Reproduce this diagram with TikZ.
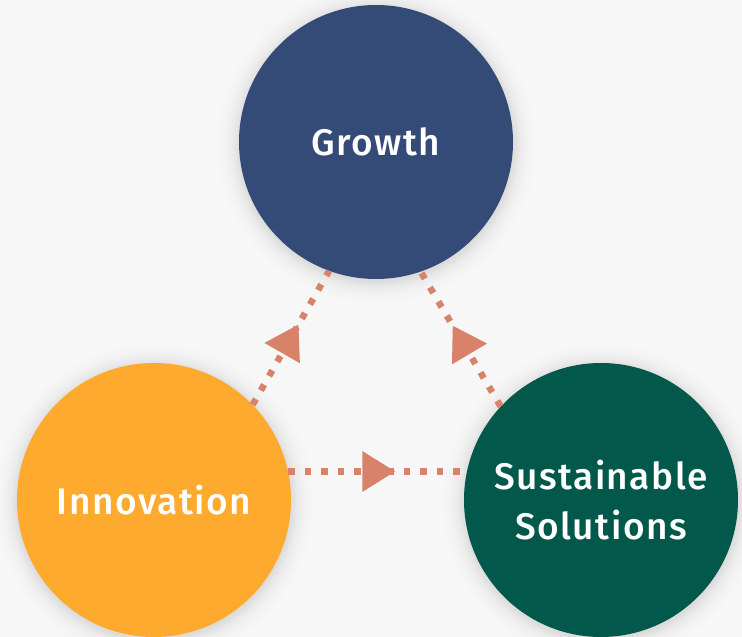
\documentclass[tikz,border=0pt]{standalone}
\usepackage{fontspec}
\setmainfont{Fira Sans}[BoldFont={Fira Sans Medium}, BoldFeatures={LetterSpace=4}]
\usetikzlibrary{decorations.markings,arrows.meta}
\definecolor{bgc}{HTML}{F7F7F7}
\definecolor{growc}{HTML}{344B77}
\definecolor{innc}{HTML}{FDAA2F}
\definecolor{susc}{HTML}{02584A}
\definecolor{arrc}{HTML}{D8826A}
\colorlet{sh1}{black!11!bgc}
\colorlet{sh2}{black!5!bgc}
\colorlet{sh3}{black!1.5!bgc}
\pgfdeclareradialshading{glow}{\pgfpoint{0bp}{0bp}}{%
  color(0bp)=(sh1); color(21.2bp)=(sh1); color(22.3bp)=(sh2);
  color(23.6bp)=(sh3); color(25bp)=(bgc); color(50bp)=(bgc)}
\tikzset{
  bubble/.style={circle, minimum size=274pt, inner sep=0pt, text=white,
    font=\bfseries\fontsize{37}{50}\selectfont, align=center},
  glowshadow/.style={shading=glow},
  flow/.style={arrc, line width=6.5pt, dash pattern=on 6.5pt off 10pt,
    postaction={decorate, decoration={markings,
      mark=at position 0.6 with {\arrow[arrc, solid]{Triangle[length=33pt, width=39pt]}}}}}
}
\begin{document}
\begin{tikzpicture}[x=1pt,y=1pt]
\fill[bgc] (0,0) rectangle (742,637);
\useasboundingbox (0,0) rectangle (742,637);
\begin{scope}
\clip (0,0) rectangle (742,637);
\coordinate (pg) at (376,495);
\coordinate (pi) at (154,137);
\coordinate (ps) at (601,137);
\shade[glowshadow] ([yshift=-2pt]pg) circle (161pt);
\shade[glowshadow] ([yshift=-2pt]pi) circle (161pt);
\shade[glowshadow] ([yshift=-2pt]ps) circle (161pt);
\node[bubble, fill=growc] (gro) at (pg) {Growth};
\node[bubble, fill=innc] (inn) at (pi) {Innovation};
\node[bubble, fill=susc] (sus) at (ps) {Sustainable\\Solutions};
\draw[flow] (inn.44) -- (gro.250);
\draw[flow] (sus.137) -- (gro.289);
\draw[flow] (inn.12) -- (sus.168);
\end{scope}
\end{tikzpicture}
\end{document}
